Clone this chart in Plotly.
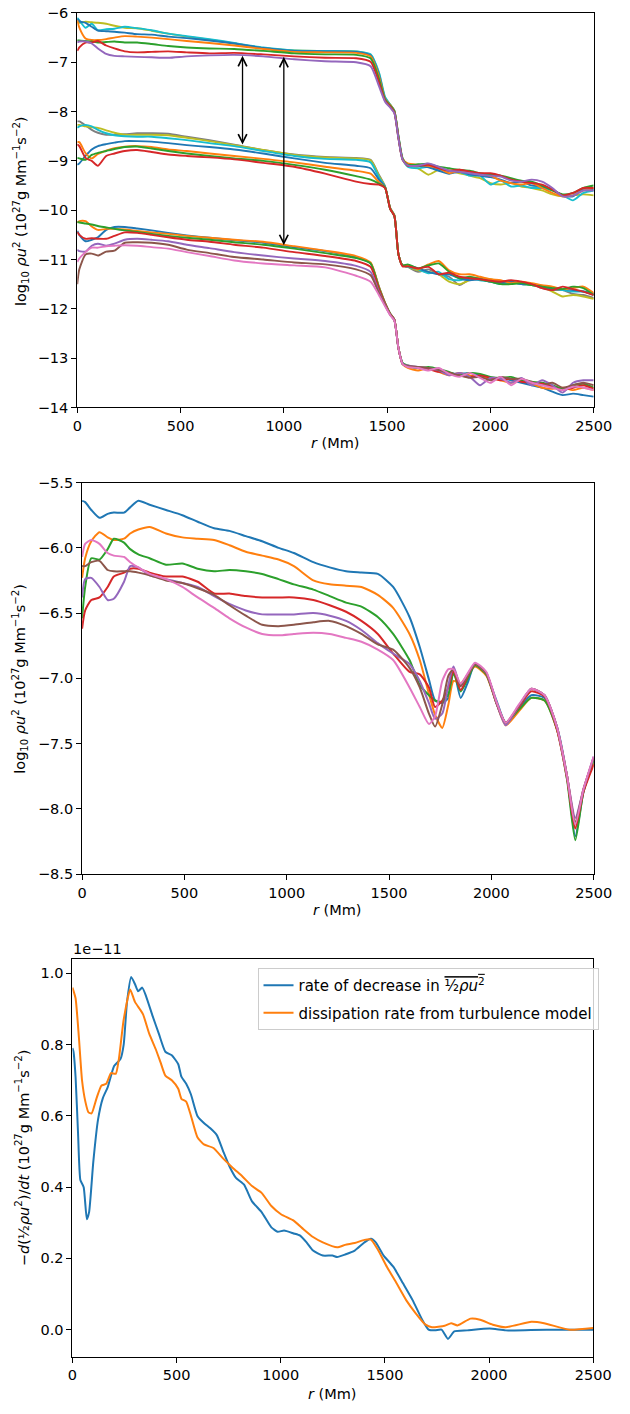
import plotly.graph_objects as go

# ---------------- colours (matplotlib tab10) ----------------
BLUE, ORANGE, GREEN, RED = "#1f77b4", "#ff7f0e", "#2ca02c", "#d62728"
PURPLE, BROWN, PINK, GRAY = "#9467bd", "#8c564b", "#e377c2", "#7f7f7f"
OLIVE, CYAN = "#bcbd22", "#17becf"

# ---------------- panel 1: three families of log10(rho u^2) profiles ----------------
R_TOP = [0, 10, 40, 70, 100, 140, 180, 230, 290, 360, 440, 530, 640, 760, 900,
         1050, 1200, 1350, 1420, 1460, 1490, 1515, 1535, 1555, 1575,
         1600, 1650, 1700, 1750, 1800, 1850, 1900, 1950, 2000, 2050, 2100,
         2150, 2200, 2250, 2300, 2350, 2400, 2450, 2500]

T1_OLIVE = [-6.18, -6.20, -6.18, -6.19, -6.20, -6.22, -6.26, -6.30, -6.31, -6.36, -6.42, -6.48, -6.54, -6.62, -6.71, -6.76, -6.77, -6.78, -6.85,
            -7.22, -7.72, -7.86, -7.98, -8.50, -8.95,
            -9.08, -9.15, -9.28, -9.18, -9.20, -9.25, -9.30, -9.35, -9.45, -9.48, -9.45, -9.52, -9.55, -9.60, -9.68, -9.72, -9.70, -9.68, -9.70]
T1_CYAN = [-6.10, -6.15, -6.30, -6.22, -6.35, -6.33, -6.32, -6.28, -6.31, -6.35, -6.42, -6.47, -6.53, -6.61, -6.70, -6.76, -6.77, -6.78, -6.84,
           -7.20, -7.70, -7.86, -7.98, -8.50, -8.95,
           -9.12, -9.15, -9.12, -9.18, -9.20, -9.22, -9.30, -9.30, -9.48, -9.40, -9.52, -9.50, -9.55, -9.55, -9.60, -9.70, -9.80, -9.65, -9.60]
T1_BLUE = [-6.12, -6.17, -6.20, -6.28, -6.36, -6.37, -6.38, -6.40, -6.43, -6.44, -6.48, -6.51, -6.56, -6.62, -6.71, -6.77, -6.78, -6.79, -6.86,
           -7.25, -7.74, -7.87, -7.99, -8.52, -8.96,
           -9.07, -9.10, -9.13, -9.20, -9.26, -9.22, -9.27, -9.30, -9.33, -9.38, -9.45, -9.42, -9.50, -9.52, -9.58, -9.70, -9.72, -9.58, -9.58]
T1_ORANGE = [-6.15, -6.30, -6.52, -6.55, -6.55, -6.53, -6.50, -6.47, -6.48, -6.50, -6.53, -6.57, -6.61, -6.66, -6.73, -6.79, -6.80, -6.81, -6.88,
             -7.28, -7.75, -7.87, -7.99, -8.52, -8.96,
             -9.05, -9.08, -9.10, -9.15, -9.25, -9.20, -9.22, -9.27, -9.30, -9.40, -9.45, -9.48, -9.45, -9.55, -9.65, -9.72, -9.70, -9.60, -9.55]
T1_GREEN = [-6.55, -6.56, -6.57, -6.58, -6.60, -6.59, -6.58, -6.60, -6.60, -6.63, -6.67, -6.70, -6.72, -6.73, -6.77, -6.82, -6.84, -6.85, -6.92,
            -7.33, -7.76, -7.88, -8.00, -8.53, -8.97,
            -9.08, -9.07, -9.06, -9.12, -9.15, -9.18, -9.20, -9.25, -9.28, -9.30, -9.35, -9.40, -9.42, -9.50, -9.60, -9.68, -9.65, -9.55, -9.50]
T1_RED = [-6.77, -6.70, -6.60, -6.60, -6.57, -6.66, -6.72, -6.78, -6.80, -6.79, -6.78, -6.80, -6.82, -6.81, -6.84, -6.88, -6.91, -6.92, -6.99,
          -7.40, -7.78, -7.90, -8.02, -8.55, -8.98,
          -9.10, -9.10, -9.08, -9.15, -9.20, -9.18, -9.22, -9.25, -9.25, -9.30, -9.38, -9.42, -9.45, -9.48, -9.58, -9.70, -9.65, -9.55, -9.55]
T1_PURPLE = [-6.60, -6.58, -6.58, -6.62, -6.72, -6.83, -6.87, -6.88, -6.89, -6.90, -6.91, -6.88, -6.86, -6.85, -6.88, -6.94, -6.98, -7.00, -7.08,
             -7.48, -7.80, -7.92, -8.03, -8.55, -8.98,
             -9.09, -9.10, -9.05, -9.12, -9.20, -9.22, -9.25, -9.28, -9.30, -9.32, -9.40, -9.42, -9.38, -9.42, -9.55, -9.72, -9.70, -9.60, -9.60]

T2_GRAY = [-8.20, -8.20, -8.28, -8.37, -8.43, -8.47, -8.47, -8.46, -8.44, -8.44, -8.45, -8.51, -8.58, -8.67, -8.78, -8.87, -8.92, -8.94, -8.98,
           -9.28, -9.52, -9.96, -10.10, -10.90, -11.12,
           -11.15, -11.25, -11.20, -11.30, -11.35, -11.52, -11.40, -11.38, -11.42, -11.45, -11.45, -11.48, -11.50, -11.58, -11.62, -11.62, -11.70, -11.72, -11.78]
T2_OLIVE = [-8.27, -8.27, -8.30, -8.32, -8.33, -8.38, -8.43, -8.47, -8.47, -8.47, -8.48, -8.53, -8.60, -8.68, -8.78, -8.88, -8.93, -8.95, -8.99,
            -9.30, -9.52, -9.96, -10.10, -10.90, -11.12,
            -11.15, -11.22, -11.25, -11.30, -11.45, -11.50, -11.42, -11.38, -11.40, -11.45, -11.45, -11.50, -11.52, -11.55, -11.65, -11.75, -11.72, -11.75, -11.80]
T2_CYAN = [-8.33, -8.30, -8.27, -8.30, -8.37, -8.44, -8.48, -8.50, -8.51, -8.51, -8.54, -8.58, -8.64, -8.70, -8.80, -8.90, -8.96, -8.98, -9.03,
           -9.33, -9.53, -9.97, -10.11, -10.90, -11.12,
           -11.15, -11.20, -11.28, -11.25, -11.40, -11.42, -11.38, -11.42, -11.45, -11.50, -11.47, -11.50, -11.52, -11.55, -11.58, -11.62, -11.65, -11.65, -11.72]
T2_BLUE = [-9.08, -9.05, -8.90, -8.77, -8.70, -8.66, -8.63, -8.60, -8.60, -8.61, -8.64, -8.68, -8.72, -8.77, -8.85, -8.95, -9.04, -9.10, -9.15,
           -9.38, -9.53, -9.97, -10.11, -10.90, -11.12,
           -11.12, -11.18, -11.25, -11.30, -11.30, -11.38, -11.42, -11.40, -11.45, -11.48, -11.45, -11.50, -11.50, -11.55, -11.60, -11.60, -11.62, -11.65, -11.70]
T2_ORANGE = [-8.62, -8.62, -8.84, -8.95, -8.86, -8.79, -8.74, -8.71, -8.70, -8.72, -8.77, -8.80, -8.85, -8.90, -8.96, -9.03, -9.12, -9.20, -9.26,
             -9.43, -9.54, -9.97, -10.11, -10.90, -11.12,
             -11.12, -11.20, -11.10, -11.03, -11.22, -11.30, -11.30, -11.35, -11.40, -11.42, -11.48, -11.45, -11.48, -11.52, -11.55, -11.60, -11.58, -11.55, -11.68]
T2_GREEN = [-8.94, -8.95, -8.98, -8.88, -8.84, -8.80, -8.76, -8.72, -8.71, -8.75, -8.80, -8.85, -8.90, -8.95, -9.00, -9.08, -9.18, -9.31, -9.38,
            -9.46, -9.54, -9.98, -10.12, -10.90, -11.12,
            -11.10, -11.18, -11.12, -11.08, -11.25, -11.38, -11.35, -11.40, -11.45, -11.50, -11.50, -11.48, -11.52, -11.55, -11.58, -11.60, -11.55, -11.58, -11.72]
T2_RED = [-8.66, -8.70, -8.94, -9.00, -9.10, -8.90, -8.85, -8.80, -8.78, -8.82, -8.87, -8.90, -8.93, -8.97, -9.04, -9.12, -9.26, -9.42, -9.47,
          -9.48, -9.55, -9.98, -10.12, -10.90, -11.14,
          -11.14, -11.18, -11.15, -11.30, -11.27, -11.35, -11.38, -11.40, -11.43, -11.45, -11.42, -11.45, -11.50, -11.58, -11.62, -11.55, -11.60, -11.65, -11.72]

T3_BLUE = [-10.42, -10.50, -10.63, -10.60, -10.55, -10.40, -10.34, -10.34, -10.37, -10.41, -10.46, -10.51, -10.56, -10.61, -10.66, -10.75, -10.83, -10.95, -11.08,
           -11.55, -11.88, -12.10, -12.22, -12.80, -13.10,
           -13.17, -13.20, -13.22, -13.25, -13.30, -13.32, -13.30, -13.35, -13.42, -13.40, -13.45, -13.50, -13.55, -13.60, -13.68, -13.75, -13.72, -13.75, -13.78]
T3_ORANGE = [-10.25, -10.22, -10.22, -10.33, -10.40, -10.38, -10.38, -10.39, -10.42, -10.45, -10.48, -10.52, -10.56, -10.60, -10.64, -10.73, -10.82, -10.93, -11.06,
             -11.55, -11.88, -12.10, -12.22, -12.80, -13.12,
             -13.20, -13.25, -13.20, -13.28, -13.35, -13.30, -13.35, -13.38, -13.40, -13.45, -13.50, -13.45, -13.52, -13.60, -13.62, -13.60, -13.65, -13.60, -13.65]
T3_GREEN = [-10.24, -10.25, -10.27, -10.29, -10.32, -10.35, -10.38, -10.41, -10.44, -10.48, -10.52, -10.56, -10.60, -10.65, -10.70, -10.78, -10.87, -10.97, -11.08,
            -11.57, -11.89, -12.10, -12.22, -12.80, -13.10,
            -13.15, -13.20, -13.18, -13.22, -13.28, -13.35, -13.30, -13.32, -13.38, -13.40, -13.38, -13.45, -13.48, -13.50, -13.55, -13.62, -13.55, -13.52, -13.60]
T3_RED = [-10.44, -10.50, -10.58, -10.57, -10.58, -10.58, -10.52, -10.45, -10.46, -10.50, -10.55, -10.60, -10.64, -10.70, -10.76, -10.85, -10.93, -11.03, -11.15,
          -11.60, -11.90, -12.11, -12.22, -12.80, -13.12,
          -13.17, -13.18, -13.22, -13.28, -13.30, -13.35, -13.38, -13.35, -13.40, -13.45, -13.42, -13.48, -13.50, -13.52, -13.58, -13.65, -13.60, -13.55, -13.62]
T3_PURPLE = [-10.80, -10.83, -10.84, -10.72, -10.68, -10.72, -10.68, -10.60, -10.58, -10.60, -10.63, -10.70, -10.77, -10.85, -10.92, -10.98, -11.03, -11.13, -11.25,
             -11.65, -11.92, -12.12, -12.23, -12.80, -13.12,
             -13.15, -13.18, -13.20, -13.25, -13.35, -13.30, -13.38, -13.55, -13.40, -13.42, -13.50, -13.40, -13.55, -13.45, -13.55, -13.70, -13.50, -13.45, -13.45]
T3_BROWN = [-11.50, -11.20, -10.90, -10.88, -10.92, -10.84, -10.82, -10.66, -10.65, -10.66, -10.70, -10.80, -10.87, -10.95, -11.00, -11.06, -11.10, -11.20, -11.32,
            -11.68, -11.93, -12.12, -12.23, -12.80, -13.12,
            -13.16, -13.18, -13.20, -13.24, -13.30, -13.35, -13.40, -13.38, -13.45, -13.38, -13.42, -13.42, -13.48, -13.55, -13.50, -13.60, -13.55, -13.50, -13.55]
T3_PINK = [-11.05, -10.98, -10.85, -10.76, -10.76, -10.73, -10.72, -10.71, -10.72, -10.75, -10.78, -10.85, -10.93, -11.02, -11.08, -11.12, -11.16, -11.33, -11.45,
           -11.72, -11.95, -12.13, -12.24, -12.80, -13.12,
           -13.18, -13.20, -13.25, -13.20, -13.32, -13.38, -13.30, -13.40, -13.50, -13.38, -13.55, -13.42, -13.50, -13.55, -13.60, -13.65, -13.58, -13.60, -13.65]

TOP_SERIES = [
    (T1_OLIVE, OLIVE), (T1_CYAN, CYAN), (T1_BLUE, BLUE), (T1_ORANGE, ORANGE),
    (T1_GREEN, GREEN), (T1_RED, RED), (T1_PURPLE, PURPLE),
    (T2_GRAY, GRAY), (T2_OLIVE, OLIVE), (T2_CYAN, CYAN), (T2_BLUE, BLUE),
    (T2_ORANGE, ORANGE), (T2_GREEN, GREEN), (T2_RED, RED),
    (T3_BLUE, BLUE), (T3_ORANGE, ORANGE), (T3_GREEN, GREEN), (T3_RED, RED),
    (T3_PURPLE, PURPLE), (T3_BROWN, BROWN), (T3_PINK, PINK),
]

# double-headed arrows: (r, lower end, upper end)
ARROWS = [(800, -8.67, -6.84), (1000, -10.71, -6.86)]

# ---------------- panel 2: profiles at successive times ----------------
R_MID = [0, 15, 45, 85, 125, 155, 205, 235, 275, 330, 410, 490, 565, 645, 720,
         800, 880, 960, 1035, 1130, 1210, 1290, 1365, 1445, 1520, 1600, 1650,
         1695, 1725, 1760, 1790, 1815, 1850, 1885, 1920, 1975, 2025, 2070, 2135,
         2195, 2260, 2320, 2370, 2410, 2450, 2500]

M_BLUE = [-5.64, -5.65, -5.71, -5.77, -5.74, -5.73, -5.73, -5.69, -5.64, -5.67,
          -5.71, -5.75, -5.80, -5.85, -5.87, -5.91, -5.95, -6.00, -6.04, -6.11,
          -6.15, -6.18, -6.19, -6.20, -6.30, -6.53,
          -6.76, -7.01, -7.17, -7.19, -7.15, -6.93,
          -7.15, -7.03, -6.89, -6.97, -7.17, -7.34,
          -7.23, -7.13, -7.15, -7.37, -7.75, -8.21, -7.87, -7.62]
M_ORANGE = [-6.23, -6.08, -5.95, -5.88, -5.92, -5.94, -5.93, -5.89, -5.86, -5.84,
            -5.89, -5.92, -5.93, -5.94, -5.98, -6.03, -6.06, -6.09, -6.14, -6.25,
            -6.28, -6.29, -6.30, -6.36, -6.46, -6.66,
            -6.86, -7.12, -7.28, -7.38, -7.20, -7.02,
            -7.04, -6.97, -6.91, -6.98, -7.19, -7.36,
            -7.25, -7.15, -7.17, -7.39, -7.75, -8.15, -7.85, -7.65]
M_GREEN = [-6.54, -6.30, -6.08, -6.09, -6.01, -5.93, -5.96, -6.01, -6.05, -6.08,
           -6.13, -6.12, -6.16, -6.18, -6.17, -6.18, -6.20, -6.24, -6.28, -6.32,
           -6.37, -6.42, -6.45, -6.53, -6.66, -6.86,
           -7.05, -7.13, -7.17, -7.18, -7.12, -6.96,
           -7.10, -7.00, -6.90, -6.97, -7.19, -7.34,
           -7.24, -7.15, -7.17, -7.39, -7.78, -8.24, -7.87, -7.63]
M_RED = [-6.62, -6.48, -6.40, -6.38, -6.30, -6.22, -6.19, -6.16, -6.16, -6.19,
         -6.22, -6.22, -6.26, -6.35, -6.35, -6.37, -6.38, -6.38, -6.38, -6.40,
         -6.44, -6.49, -6.56, -6.66, -6.81, -6.95,
         -6.97, -7.07, -7.22, -7.17, -7.07, -6.94,
         -7.09, -6.98, -6.89, -6.96, -7.19, -7.34,
         -7.22, -7.10, -7.14, -7.39, -7.77, -8.15, -7.87, -7.66]
M_PURPLE = [-6.38, -6.24, -6.23, -6.30, -6.40, -6.39, -6.26, -6.14, -6.15, -6.21,
            -6.24, -6.27, -6.30, -6.37, -6.43, -6.48, -6.51, -6.51, -6.51, -6.50,
            -6.52, -6.56, -6.63, -6.73, -6.81, -6.89,
            -7.02, -7.19, -7.31, -7.27, -7.05, -6.91,
            -7.06, -6.97, -6.89, -6.96, -7.19, -7.36,
            -7.21, -7.08, -7.13, -7.37, -7.75, -8.07, -7.85, -7.60]
M_BROWN = [-6.14, -6.14, -6.11, -6.10, -6.17, -6.18, -6.18, -6.18, -6.19, -6.21,
           -6.25, -6.27, -6.31, -6.36, -6.44, -6.52, -6.59, -6.60, -6.59, -6.57,
           -6.56, -6.60, -6.66, -6.74, -6.78, -6.92,
           -7.07, -7.27, -7.37, -7.20, -6.98, -6.93,
           -7.06, -6.97, -6.89, -6.96, -7.19, -7.34,
           -7.21, -7.08, -7.13, -7.37, -7.75, -8.10, -7.85, -7.61]
M_PINK = [-6.07, -5.97, -5.94, -5.97, -6.04, -6.06, -6.07, -6.11, -6.15, -6.20,
          -6.24, -6.30, -6.38, -6.46, -6.54, -6.61, -6.66, -6.67, -6.66, -6.65,
          -6.66, -6.69, -6.72, -6.78, -6.86, -7.07,
          -7.22, -7.35, -7.29, -7.02, -6.93, -6.93,
          -7.04, -6.96, -6.88, -6.95, -7.18, -7.34,
          -7.20, -7.08, -7.13, -7.37, -7.75, -8.12, -7.85, -7.60]

MID_SERIES = [(M_BLUE, BLUE), (M_ORANGE, ORANGE), (M_GREEN, GREEN), (M_RED, RED),
              (M_PURPLE, PURPLE), (M_BROWN, BROWN), (M_PINK, PINK)]

# ---------------- panel 3: decay rate vs. modelled dissipation (units of 1e-11) ----------------
R_RATE = [0, 5, 15, 27, 38, 54, 69, 80, 100, 123, 146, 169, 200, 231, 246, 262,
          282, 300, 315, 335, 354, 385, 415, 446, 477, 508, 523, 546, 569, 600,
          631, 662, 693, 724, 754, 785, 824, 862, 908, 955, 985, 1016, 1062,
          1093, 1124, 1155, 1202, 1248, 1271, 1309, 1355, 1402, 1433, 1456,
          1494, 1541, 1587, 1633, 1679, 1710, 1741, 1772, 1803, 1833, 1895,
          2003, 2080, 2200, 2350, 2500]
RATE = [0.79, 0.78, 0.71, 0.55, 0.42, 0.40, 0.31, 0.33, 0.47, 0.59, 0.65, 0.68,
        0.74, 0.76, 0.80, 0.92, 0.99, 0.97, 0.95, 0.96, 0.935, 0.88, 0.83, 0.78,
        0.77, 0.745, 0.71, 0.69, 0.66, 0.60, 0.58, 0.565, 0.546, 0.50, 0.458,
        0.426, 0.407, 0.36, 0.33, 0.287, 0.275, 0.278, 0.27, 0.264, 0.245,
        0.222, 0.208, 0.208, 0.204, 0.211, 0.222, 0.245, 0.255, 0.245, 0.208,
        0.176, 0.13, 0.083, 0.028, 0.0, -0.002, 0.0, -0.026, -0.005, -0.002,
        0.003, -0.002, -0.001, 0.0, 0.0]

R_DISS = [0, 15, 31, 46, 62, 77, 92, 116, 139, 162, 185, 208, 223, 246, 277,
          300, 323, 339, 369, 400, 423, 446, 477, 508, 523, 546, 569, 600, 631,
          677, 724, 770, 816, 862, 908, 955, 1001, 1062, 1109, 1155, 1202, 1271,
          1309, 1355, 1402, 1433, 1464, 1510, 1556, 1602, 1648, 1695, 1726,
          1787, 1818, 1849, 1911, 1957, 2018, 2080, 2203, 2264, 2387, 2500]
DISS = [0.96, 0.93, 0.82, 0.70, 0.64, 0.61, 0.607, 0.65, 0.685, 0.69, 0.72,
        0.718, 0.76, 0.87, 0.955, 0.92, 0.90, 0.885, 0.83, 0.787, 0.75, 0.713,
        0.70, 0.676, 0.648, 0.64, 0.60, 0.54, 0.52, 0.51, 0.48, 0.454, 0.43,
        0.403, 0.384, 0.347, 0.324, 0.306, 0.282, 0.26, 0.245, 0.231, 0.238,
        0.243, 0.252, 0.253, 0.227, 0.176, 0.13, 0.083, 0.046, 0.014, 0.007,
        0.011, 0.018, 0.012, 0.031, 0.028, 0.014, 0.007, 0.022, 0.018, 0.0,
        0.005]

X_TICKS = [0, 500, 1000, 1500, 2000, 2500]

# ---------------- figure ----------------
W, H = 630, 1414
FONT = "DejaVu Sans"
FS = 14.5
fig = go.Figure()

for ys, col in TOP_SERIES:
    fig.add_trace(go.Scatter(x=R_TOP, y=ys, mode="lines", xaxis="x", yaxis="y",
                             line=dict(color=col, width=1.9, shape="spline", smoothing=0.6),
                             showlegend=False, hoverinfo="skip"))

for ys, col in MID_SERIES:
    fig.add_trace(go.Scatter(x=R_MID, y=ys, mode="lines", xaxis="x2", yaxis="y2",
                             line=dict(color=col, width=2, shape="spline", smoothing=0.6),
                             showlegend=False, hoverinfo="skip"))

LEG1 = ('rate of decrease in <span style="text-decoration:overline">'
        '½<i>ρu</i><sup>2</sup></span>')
fig.add_trace(go.Scatter(x=R_RATE, y=RATE, mode="lines", xaxis="x3", yaxis="y3",
                         name=LEG1, legendgroup="rate",
                         line=dict(color=BLUE, width=2, shape="spline", smoothing=0.5)))
fig.add_trace(go.Scatter(x=R_DISS, y=DISS, mode="lines", xaxis="x3", yaxis="y3",
                         name="dissipation rate from turbulence model", legendgroup="diss",
                         line=dict(color=ORANGE, width=2, shape="spline", smoothing=0.5)))


def px_x(p):
    return p / W


def px_y(p):
    return 1 - p / H


def xaxis(left, right, anchor):
    return dict(domain=[px_x(left), px_x(right)], anchor=anchor, range=[0, 2500],
                tickvals=X_TICKS, ticks="outside", ticklen=5, tickwidth=1.1,
                tickcolor="black", showline=True, linecolor="black", linewidth=1.1,
                mirror=True, showgrid=False, zeroline=False,
                tickfont=dict(family=FONT, size=FS, color="black"))


def yaxis(top, bottom, anchor, rng, tickvals, fmt):
    return dict(domain=[px_y(bottom), px_y(top)], anchor=anchor, range=rng,
                tickvals=tickvals, tickformat=fmt, ticks="outside", ticklen=5,
                tickwidth=1.1, tickcolor="black", showline=True, linecolor="black",
                linewidth=1.1, mirror=True, showgrid=False, zeroline=False,
                tickfont=dict(family=FONT, size=FS, color="black"))


YT_LOG = ("log<sub>10</sub> <i>ρu</i><sup>2</sup> (10<sup>27</sup>g Mm<sup>−1</sup>s<sup>−2</sup>)")
YT_RATE = ("−<i>d</i>(½<i>ρu</i><sup>2</sup>)/<i>dt</i> "
           "(10<sup>27</sup>g Mm<sup>−1</sup>s<sup>−2</sup>)")
XT = "<i>r</i> (Mm)"

annotations = []
for x_c, y_c in [(343, 440), (345, 912), (340, 1402)]:
    annotations.append(dict(text=XT, xref="paper", yref="paper", x=px_x(x_c), y=px_y(y_c),
                            xanchor="center", yanchor="middle", showarrow=False,
                            font=dict(family=FONT, size=FS, color="black")))
for txt, x_c, y_c in [(YT_LOG, 16, 205), (YT_LOG, 16, 678), (YT_RATE, 18, 1163)]:
    annotations.append(dict(text=txt, xref="paper", yref="paper", x=px_x(x_c), y=px_y(y_c),
                            xanchor="center", yanchor="middle", textangle=-90,
                            showarrow=False, font=dict(family=FONT, size=FS, color="black")))
annotations.append(dict(text="1e−11", xref="paper", yref="paper", x=px_x(69), y=px_y(952),
                        xanchor="left", yanchor="middle", showarrow=False,
                        font=dict(family=FONT, size=FS, color="black")))
for r, lo, hi in ARROWS:
    annotations.append(dict(x=r, y=lo, ax=r, ay=hi, xref="x", yref="y", axref="x", ayref="y",
                            text="", showarrow=True, arrowside="end+start", arrowhead=5,
                            startarrowhead=5, arrowsize=1.3, startarrowsize=1.3,
                            arrowwidth=1.3, arrowcolor="black", standoff=0, startstandoff=0))

fig.update_layout(
    width=W, height=H, margin=dict(l=0, r=0, t=0, b=0),
    paper_bgcolor="white", plot_bgcolor="white",
    font=dict(family=FONT, size=FS, color="black"),
    xaxis=xaxis(75, 611, "y"),
    yaxis=yaxis(5, 404, "x", [-14, -6], list(range(-14, -5)), "d"),
    xaxis2=xaxis(80, 611, "y2"),
    yaxis2=yaxis(480, 876, "x2", [-8.5, -5.5], [-8.5, -8.0, -7.5, -7.0, -6.5, -6.0, -5.5], ".1f"),
    xaxis3=xaxis(70, 610.5, "y3"),
    yaxis3=yaxis(962, 1364, "x3", [-0.0755, 1.04], [0.0, 0.2, 0.4, 0.6, 0.8, 1.0], ".1f"),
    legend=dict(x=px_x(616), y=px_y(971), xanchor="right", yanchor="top",
                bgcolor="rgba(255,255,255,0.8)", bordercolor="#cccccc", borderwidth=1,
                tracegroupgap=5, font=dict(family=FONT, size=15, color="black")),
    annotations=annotations,
    showlegend=True,
)

fig.write_html("out.html")
